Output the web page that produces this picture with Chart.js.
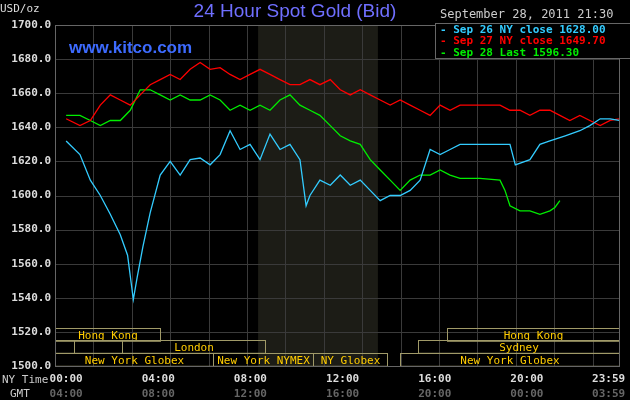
<!DOCTYPE html>
<html>
<head>
<meta charset="UTF-8">
<script src="https://cdn.jsdelivr.net/npm/chart.js@4.4.0/dist/chart.umd.min.js"></script>
<style>
  body { margin: 0; background: #000; }
  #wrap { width: 630px; height: 400px; }
</style>
</head>
<body>
<div id="wrap"><canvas id="gold"></canvas></div>
<script>
// minutes since 00:00 NY time
const cyanTimes = [0,36,63,89,115,141,160,175,185,200,219,245,271,297,323,349,375,401,427,453,479,505,531,557,583,609,625,635,661,688,714,740,766,792,818,844,870,896,922,948,974,1000,1026,1078,1130,1156,1170,1208,1234,1260,1300,1338,1364,1391,1417,1440];
const cyanValues = [1632,1624,1609,1600,1589,1577,1565,1539,1552,1570,1590,1612,1620,1612,1621,1622,1618,1624,1638,1627,1630,1621,1636,1627,1630,1621,1594,1600,1609,1606,1612,1606,1609,1603,1597,1600,1600,1603,1609,1627,1624,1627,1630,1630,1630,1630,1618,1621,1630,1632,1635,1638,1641,1645,1645,1644];
const redTimes = [0,36,63,89,115,141,167,193,219,245,271,297,323,349,375,401,427,453,479,505,531,557,583,609,635,661,688,714,740,766,792,818,844,870,896,922,948,974,1000,1026,1078,1130,1156,1182,1208,1234,1260,1286,1312,1338,1364,1391,1417,1440];
const redValues = [1645,1641,1644,1653,1659,1656,1653,1659,1665,1668,1671,1668,1674,1678,1674,1675,1671,1668,1671,1674,1671,1668,1665,1665,1668,1665,1668,1662,1659,1662,1659,1656,1653,1656,1653,1650,1647,1653,1650,1653,1653,1653,1650,1650,1647,1650,1650,1647,1644,1647,1644,1641,1644,1645];
const greenTimes = [0,36,63,89,115,141,167,193,219,245,271,297,323,349,375,401,427,453,479,505,531,557,583,609,635,661,688,714,740,766,792,818,844,870,896,922,948,974,1000,1026,1078,1130,1143,1156,1182,1208,1234,1260,1273,1286];
const greenValues = [1647,1647,1644,1641,1644,1644,1650,1662,1662,1659,1656,1659,1656,1656,1659,1656,1650,1653,1650,1653,1650,1656,1659,1653,1650,1647,1641,1635,1632,1630,1621,1615,1609,1603,1609,1612,1612,1615,1612,1610,1610,1609,1603,1594,1591,1591,1589,1591,1593,1597];
const legendLabels = ['Sep 26 NY close 1628.00', 'Sep 27 NY close 1649.70', 'Sep 28 Last 1596.30'];
const nyTicks = ['00:00','04:00','08:00','12:00','16:00','20:00','23:59'];
const gmtTicks = ['04:00','08:00','12:00','16:00','20:00','00:00','03:59'];
const tickMinutes = [0,240,480,720,960,1200,1439];
const priceTicks = [1700,1680,1660,1640,1620,1600,1580,1560,1540,1520,1500];
// sessions: [row, start, end, label]
const sessions = [
  [0,-29,245,'Hong Kong'],[0,992,1440,'Hong Kong'],
  [1,-29,21,''],[1,21,146,''],[1,146,518,'London'],[1,917,1440,'Sydney'],
  [2,-29,383,'New York Globex'],[2,383,643,'New York NYMEX'],[2,643,836,'NY Globex'],[2,870,1440,'New York Globex']
];
const nymexOpen = [500, 812];

const toXY = (t, v) => t.map((m, i) => ({ x: m, y: v[i] }));
const mono = '"DejaVu Sans Mono", monospace';

const decor = {
  id: 'decor',
  beforeDatasetsDraw(chart) {
    const { ctx, chartArea: a, scales: { x, y } } = chart;
    ctx.save();
    ctx.fillStyle = '#1c1c16';
    ctx.fillRect(x.getPixelForValue(nymexOpen[0]), a.top, x.getPixelForValue(nymexOpen[1]) - x.getPixelForValue(nymexOpen[0]), a.bottom - a.top);
    ctx.strokeStyle = '#3a3a3a';
    ctx.lineWidth = 1;
    for (let m = -29; m <= 1440; m += 100) {
      const px = Math.round(x.getPixelForValue(m)) + 0.5;
      ctx.beginPath(); ctx.moveTo(px, a.top); ctx.lineTo(px, a.bottom); ctx.stroke();
    }
    priceTicks.forEach(p => {
      const py = Math.round(y.getPixelForValue(p)) + 0.5;
      ctx.beginPath(); ctx.moveTo(a.left, py); ctx.lineTo(a.right, py); ctx.stroke();
    });
    // session boxes
    ctx.strokeStyle = '#a09a68';
    ctx.font = '11px ' + mono;
    ctx.textBaseline = 'middle';
    const h = 12.8;
    sessions.forEach(([row, s, e, label]) => {
      const x0 = Math.round(x.getPixelForValue(s)) + 0.5;
      const x1 = Math.min(Math.round(x.getPixelForValue(e)), a.right) + 0.5;
      const y0 = Math.round(a.bottom - (3 - row) * h) + 0.5;
      ctx.strokeRect(x0, y0, x1 - x0, h);
      if (label) {
        ctx.fillStyle = '#ffcc00';
        ctx.textAlign = 'center';
        ctx.fillText(label, (x0 + x1) / 2, y0 + h / 2 + 1);
      }
    });
    ctx.restore();
  },
  afterDraw(chart) {
    const { ctx, chartArea: a, scales: { x, y } } = chart;
    ctx.save();
    ctx.strokeStyle = '#666';
    ctx.strokeRect(a.left + 0.5, a.top + 0.5, a.right - a.left, a.bottom - a.top);
    ctx.font = 'bold 11px ' + mono;
    ctx.fillStyle = '#ddd';
    ctx.textAlign = 'right';
    ctx.textBaseline = 'middle';
    priceTicks.forEach(p => ctx.fillText(p.toFixed(1), 51, y.getPixelForValue(p)));
    ctx.textAlign = 'left';
    ctx.font = '11px ' + mono;
    ctx.fillText('USD/oz', 0, 9);
    // x labels
    ctx.textAlign = 'center';
    ctx.font = 'bold 11px ' + mono;
    tickMinutes.forEach((m, i) => {
      let px = x.getPixelForValue(m);
      if (i === tickMinutes.length - 1) px -= 10;
      ctx.fillStyle = '#ddd';
      ctx.fillText(nyTicks[i], px, 379);
      ctx.fillStyle = '#666';
      ctx.fillText(gmtTicks[i], px, 394);
    });
    ctx.font = '11px ' + mono;
    ctx.fillStyle = '#ccc';
    ctx.textAlign = 'left';
    ctx.fillText('NY Time', 2, 380);
    ctx.fillText('GMT', 10, 394);
    // title
    ctx.font = '19px "Liberation Sans", Arial, sans-serif';
    ctx.fillStyle = '#6f6fff';
    ctx.textAlign = 'center';
    ctx.fillText('24 Hour Spot Gold (Bid)', 295, 12);
    ctx.font = 'bold 17px "Liberation Sans", Arial, sans-serif';
    ctx.fillStyle = '#3d6bff';
    ctx.textAlign = 'left';
    ctx.fillText('www.kitco.com', 69, 48);
    ctx.font = '12px ' + mono;
    ctx.fillStyle = '#ccc';
    ctx.fillText('September 28, 2011 21:30', 440, 15);
    // legend box
    ctx.fillStyle = '#000';
    ctx.fillRect(435, 23, 195, 36);
    ctx.strokeStyle = '#666';
    ctx.strokeRect(435.5, 23.5, 200, 35);
    const cols = ['#33ccff', '#ff0000', '#00ee00'];
    ctx.font = 'bold 11px ' + mono;
    legendLabels.forEach((t, i) => {
      ctx.fillStyle = cols[i];
      ctx.fillText('- ' + t, 440, 30 + i * 11.5);
    });
    ctx.restore();
  }
};

new Chart(document.getElementById('gold'), {
  type: 'line',
  data: {
    datasets: [
      { data: toXY(cyanTimes, cyanValues), borderColor: '#33ccff' },
      { data: toXY(redTimes, redValues), borderColor: '#ff0000' },
      { data: toXY(greenTimes, greenValues), borderColor: '#00ee00' }
    ]
  },
  options: {
    responsive: true,
    maintainAspectRatio: false,
    animation: false,
    devicePixelRatio: 1,
    layout: { padding: { left: 55, right: 11, top: 25, bottom: 34 } },
    elements: { point: { radius: 0 }, line: { borderWidth: 1.3, tension: 0 } },
    plugins: { legend: { display: false }, tooltip: { enabled: false } },
    scales: {
      x: { type: 'linear', min: -29, max: 1440, display: false },
      y: { min: 1500, max: 1700, display: false }
    }
  },
  plugins: [decor]
});
</script>
</body>
</html>
